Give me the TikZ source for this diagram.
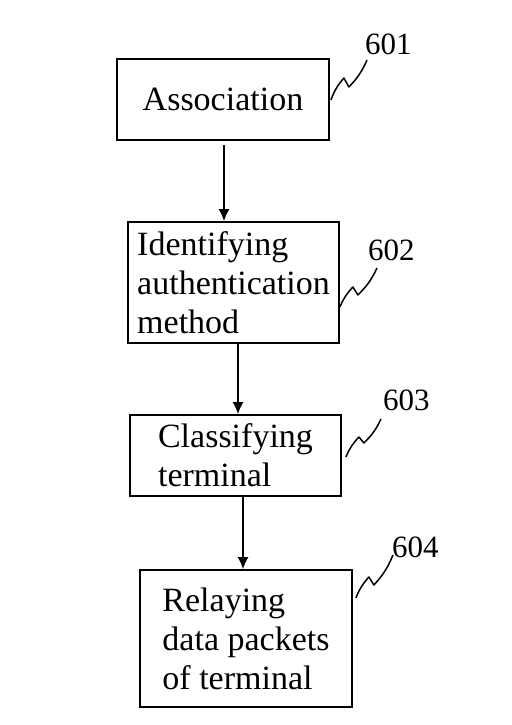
\documentclass[tikz,border=0pt]{standalone}
\usepackage{fontspec}
\setmainfont{Liberation Serif}
\usetikzlibrary{arrows.meta}

\tikzset{
  stepbox/.style={draw, line width=1.8pt, minimum width=212pt, align=left, inner sep=0pt, font=\fontsize{34}{39}\selectfont},
  flow/.style={line width=1.5pt, -{Latex[length=12pt,width=11pt]}},
  reflabel/.style={anchor=base west, inner sep=0pt, font=\fontsize{31}{36}\selectfont},
  zig/.style={line width=1.5pt, line join=round}
}

\begin{document}
\begin{tikzpicture}[x=1pt,y=-1pt]
\useasboundingbox (0,0) rectangle (511,725);

\node[stepbox, minimum height=81pt] (assoc) at (223,99.5) {Association};
\node[stepbox, minimum width=211pt, minimum height=121pt] (identify) at (233.5,282.5) {Identifying\\authentication\\method};
\node[stepbox, minimum width=211pt, minimum height=81pt] (classify) at (235.5,455.5) {Classifying\\terminal};
\node[stepbox, minimum height=137pt] (relay) at (246,638.5) {Relaying\\data packets\\of terminal};

\node[reflabel] (l601) at (365,55) {601};
\node[reflabel] (l602) at (368,260) {602};
\node[reflabel] (l603) at (383,410) {603};
\node[reflabel] (l604) at (392,557) {604};

\draw[flow, shorten <=4pt] ([xshift=1pt]assoc.south) -- ([xshift=1pt]assoc.south |- identify.north);
\draw[flow] ([xshift=4.5pt]identify.south) -- ([xshift=4.5pt]identify.south |- classify.north);
\draw[flow] ([xshift=7.5pt]classify.south) -- ([xshift=7.5pt]classify.south |- relay.north);

\draw[zig] ([shift={(1,0.5)}]assoc.east) to[bend left=10] ++(13,-22) -- ++(5,9) to[bend right=10] ([shift={(2,5)}]l601.base west);
\draw[zig] ([shift={(0,24.5)}]identify.east) to[bend left=10] ++(13,-20) -- ++(5,8) to[bend right=10] ([shift={(9,8)}]l602.base west);
\draw[zig] ([shift={(4,1.5)}]classify.east) to[bend left=10] ++(13,-20) -- ++(5,6) to[bend right=10] ([shift={(-2,9)}]l603.base west);
\draw[zig] ([shift={(3,-40.5)}]relay.east) to[bend left=10] ++(13,-21) -- ++(5,8) to[bend right=10] ([shift={(1,-2)}]l604.base west);
\end{tikzpicture}
\end{document}
